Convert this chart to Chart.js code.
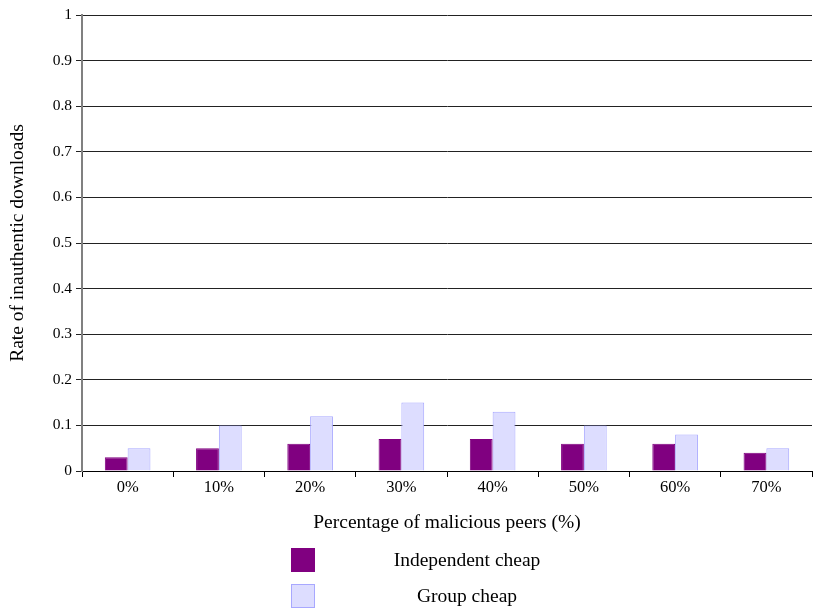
<!DOCTYPE html>
<html>
<head>
<meta charset="utf-8">
<script src="https://cdn.jsdelivr.net/npm/chart.js@4"></script>
<style>
  html, body { margin: 0; padding: 0; background: #fff; }
  #wrap { width: 813px; height: 610px; }
</style>
</head>
<body>
<div id="wrap"><canvas id="c" width="813" height="610"></canvas></div>
<script>
const categories = ['0%', '10%', '20%', '30%', '40%', '50%', '60%', '70%'];
const independentCheap = [0.03, 0.05, 0.06, 0.07, 0.07, 0.06, 0.06, 0.04];
const groupCheap = [0.05, 0.10, 0.12, 0.15, 0.13, 0.10, 0.08, 0.05];
const seriesNames = ['Independent cheap', 'Group cheap'];
const yTickLabels = ['0', '0.1', '0.2', '0.3', '0.4', '0.5', '0.6', '0.7', '0.8', '0.9', '1'];

const serif = '"Liberation Serif", "Times New Roman", serif';

// Vertical legend drawn beneath the x-axis title
const stackedLegend = {
  id: 'stackedLegend',
  afterDraw(chart) {
    const ctx = chart.ctx;
    const rows = [560, 596];
    ctx.save();
    chart.data.datasets.forEach((ds, i) => {
      const y = rows[i];
      ctx.fillStyle = ds.backgroundColor;
      ctx.strokeStyle = ds.borderColor;
      ctx.lineWidth = 1;
      ctx.fillRect(291.5, y - 11.5, 23, 23);
      ctx.strokeRect(291.5, y - 11.5, 23, 23);
      ctx.fillStyle = '#000';
      ctx.font = '19.5px ' + serif;
      ctx.textAlign = 'center';
      ctx.textBaseline = 'middle';
      ctx.fillText(ds.label, 467, y + 1);
    });
    ctx.restore();
  }
};

new Chart(document.getElementById('c'), {
  type: 'bar',
  data: {
    labels: categories,
    datasets: [
      {
        label: seriesNames[0],
        data: independentCheap,
        backgroundColor: '#800080',
        borderColor: '#800080',
        borderWidth: 1
      },
      {
        label: seriesNames[1],
        data: groupCheap,
        backgroundColor: '#DDDDFF',
        borderColor: '#A8A8FF',
        borderWidth: 1
      }
    ]
  },
  options: {
    responsive: false,
    animation: false,
    layout: { padding: { top: 15, right: 1, bottom: 72, left: 0 } },
    datasets: { bar: { categoryPercentage: 0.5, barPercentage: 1.0 } },
    plugins: {
      legend: { display: false },
      tooltip: { enabled: false }
    },
    scales: {
      x: {
        grid: {
          display: true,
          drawOnChartArea: false,
          drawTicks: true,
          tickLength: 6,
          color: '#000',
          offset: true
        },
        border: { color: '#000', width: 1 },
        ticks: {
          color: '#000',
          font: { family: serif, size: 16.5 },
          padding: 1
        },
        title: {
          display: true,
          text: 'Percentage of malicious peers (%)',
          color: '#000',
          font: { family: serif, size: 19.5 },
          padding: { top: 4, bottom: 3 }
        },
        afterFit(scale) { scale.height = 67; }
      },
      y: {
        min: 0,
        max: 1,
        grid: {
          color: '#222',
          tickLength: 6,
          drawTicks: true
        },
        border: { color: '#808080', width: 2 },
        ticks: {
          stepSize: 0.1,
          color: '#000',
          font: { family: serif, size: 15.5 },
          padding: 4,
          callback: (v, i) => yTickLabels[i]
        },
        title: {
          display: true,
          text: 'Rate of inauthentic downloads',
          color: '#000',
          font: { family: serif, size: 19.5 },
          padding: { top: 6, bottom: 4 }
        },
        afterFit(scale) { scale.width = 82; }
      }
    }
  },
  plugins: [stackedLegend]
});
</script>
</body>
</html>
